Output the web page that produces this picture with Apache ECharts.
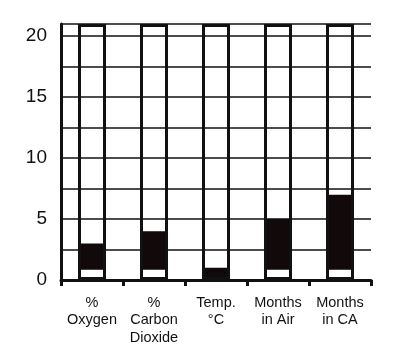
<!DOCTYPE html>
<html>
<head>
<meta charset="utf-8">
<script src="https://cdn.jsdelivr.net/npm/echarts@6/dist/echarts.min.js"></script>
<style>
  html, body { margin: 0; padding: 0; background: #fff; }
  #chart { width: 400px; height: 355px; }
</style>
</head>
<body>
<div id="chart"></div>
<script>
// 数据
var categories = ['%\nOxygen', '%\nCarbon\nDioxide', 'Temp.\n°C', 'Months\nin Air', 'Months\nin CA'];
var columnTop = [21, 21, 21, 21, 21];      // outline column height
var fillBottom = [0.85, 0.85, 0, 0.85, 0.85];
var fillTop = [3, 4, 1, 5, 7];

var fillSize = fillTop.map(function (v, i) { return v - fillBottom[i]; });

var myChart = echarts.init(document.getElementById('chart'));
myChart.setOption({
    animation: false,
    backgroundColor: '#fff',
    grid: { left: 61, right: 29, top: 24, bottom: 75 },
    xAxis: {
        type: 'category',
        data: categories,
        axisLine: { lineStyle: { color: '#111', width: 3 } },
        axisTick: { show: true, interval: 0, length: 6, lineStyle: { color: '#111', width: 3 } },
        axisLabel: {
            interval: 0, margin: 14, color: '#111',
            fontFamily: 'Liberation Sans, Arial, sans-serif', fontSize: 14.5, lineHeight: 17.5
        }
    },
    yAxis: {
        type: 'value',
        min: 0, max: 21, interval: 2.5,
        axisLine: { show: true, lineStyle: { color: '#111', width: 3 } },
        axisTick: { show: false },
        splitLine: { lineStyle: { color: '#111', width: 1.6 } },
        axisLabel: {
            margin: 14, color: '#111',
            fontFamily: 'Liberation Sans, Arial, sans-serif', fontSize: 19,
            formatter: function (v) { return v % 5 === 0 ? v : ''; }
        }
    },
    series: [
        {
            type: 'bar', stack: 'fill', barWidth: 28, barGap: '-100%',
            data: fillBottom,
            itemStyle: { color: 'transparent' }
        },
        {
            type: 'bar', stack: 'fill', barWidth: 28, barGap: '-100%',
            data: fillSize,
            itemStyle: { color: '#120a0a', borderColor: '#120a0a', borderWidth: 3 }
        },
        {
            type: 'bar', barWidth: 28, barGap: '-100%',
            data: columnTop,
            itemStyle: { color: 'transparent', borderColor: '#111', borderWidth: 3 }
        }
    ]
});
</script>
</body>
</html>
